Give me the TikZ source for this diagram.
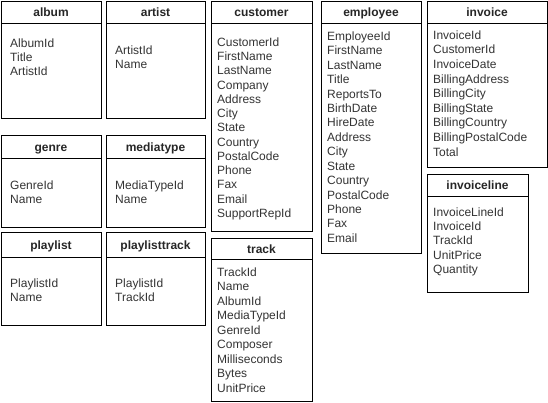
\documentclass[tikz,border=0pt]{standalone}
\usepackage{fontspec}
\setmainfont{Liberation Sans}
\newcommand\entity[7]{%
  \node[box, anchor=north west, minimum width={(#4-#2)*1pt}, minimum height={(#5-#3)*1pt}] (#1) at (#2,#3) {};
  \draw[hline] (#1.west |- 0,#6) -- (#1.east |- 0,#6);
  \node[ttl] (#1-title) at ({(#2+#4)/2},{(#3+#6)/2+0.5}) {#7};
}
\newcommand\fields[5]{%
  \foreach \f [count=\i from 0] in {#5} {\node[fld] (#1-f\i) at (#2,{#3+\i*#4}) {\f};}
}
\begin{document}
\begin{tikzpicture}[x=1pt,y=-1pt,
  box/.style={draw=black, line width=1pt, inner sep=0pt, outer sep=0pt},
  hline/.style={draw=black, line width=1pt},
  ttl/.style={font=\fontsize{12}{14}\selectfont\bfseries, inner sep=0pt, text height=8.6pt, text depth=0pt, text=black!85},
  fld/.style={font=\fontsize{12}{14}\selectfont, inner sep=0pt, anchor=west, text height=8.6pt, text depth=0pt, text=black!80}]
\useasboundingbox (0,0) rectangle (548,402);

\entity{album}{1}{1}{101}{118}{23}{album}
\fields{album}{10}{43}{14.2}{AlbumId,Title,ArtistId}

\entity{artist}{106}{1}{205}{118}{23}{artist}
\fields{artist}{115}{50}{14.2}{ArtistId,Name}

\entity{genre}{1}{135}{101}{227}{158}{genre}
\fields{genre}{10}{185}{14.2}{GenreId,Name}

\entity{mediatype}{106}{135}{205}{227}{158}{mediatype}
\fields{mediatype}{115}{185}{14.2}{MediaTypeId,Name}

\entity{playlist}{1}{232}{101}{325}{257}{playlist}
\fields{playlist}{10}{283}{14.5}{PlaylistId,Name}

\entity{playlisttrack}{106}{232}{205}{325}{257}{playlisttrack}
\fields{playlisttrack}{115}{283}{14.5}{PlaylistId,TrackId}

\entity{customer}{211}{1}{312}{231}{23}{customer}
\fields{customer}{217}{42}{14.25}{CustomerId,FirstName,LastName,Company,Address,City,State,Country,PostalCode,Phone,Fax,Email,SupportRepId}

\entity{employee}{321}{1}{421}{253}{23}{employee}
\fields{employee}{327}{36}{14.43}{EmployeeId,FirstName,LastName,Title,ReportsTo,BirthDate,HireDate,Address,City,State,Country,PostalCode,Phone,Fax,Email}

\entity{invoice}{427}{1}{547}{167}{23}{invoice}
\fields{invoice}{433}{35}{14.6}{InvoiceId,CustomerId,InvoiceDate,BillingAddress,BillingCity,BillingState,BillingCountry,BillingPostalCode,Total}

\entity{invoiceline}{427}{174}{528}{292}{196}{invoiceline}
\fields{invoiceline}{433}{212}{14.3}{InvoiceLineId,InvoiceId,TrackId,UnitPrice,Quantity}

\entity{track}{211}{238}{312}{401}{259}{track}
\fields{track}{217}{272}{14.5}{TrackId,Name,AlbumId,MediaTypeId,GenreId,Composer,Milliseconds,Bytes,UnitPrice}
\end{tikzpicture}
\end{document}
